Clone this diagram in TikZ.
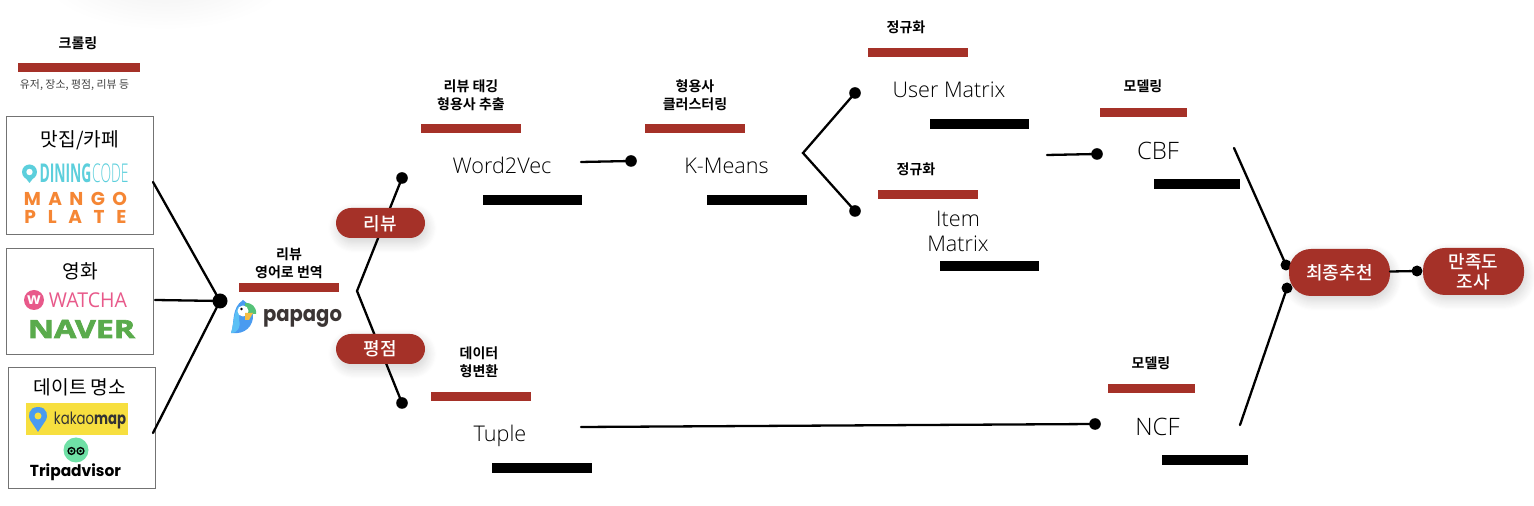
\documentclass[tikz,border=0pt]{standalone}
\usepackage{fontspec}
\usepackage{graphicx}
\setmainfont{Open Sans}
\newfontfamily\kr{Noto Sans CJK KR}
\newfontfamily\krb{Noto Sans CJK KR Bold}[BoldFont={Noto Sans CJK KR Bold}]
\newfontfamily\krm{Noto Sans CJK KR Medium}
\newfontfamily\pop{Poppins}
\newfontfamily\opl{Open Sans Light}
\newfontfamily\opfat{Open Sans}[FakeBold=2.5,BoldFeatures={FakeBold=2.5}]
\usetikzlibrary{fadings,shadows.blur}
\definecolor{brick}{HTML}{A53128}
\definecolor{dcode}{HTML}{5CCFDC}
\definecolor{mango}{HTML}{F58634}
\definecolor{watcha}{HTML}{E8598A}
\definecolor{navergr}{HTML}{5AAB4C}
\definecolor{kakaoy}{HTML}{F7DF3F}
\definecolor{tripg}{HTML}{6FE0A6}
\definecolor{papagoc}{HTML}{3B3534}
\definecolor{birdblue}{HTML}{4A9BF0}
\definecolor{birdsky}{HTML}{5BC0F5}
\definecolor{birdgreen}{HTML}{55C278}
\definecolor{birdbeak}{HTML}{F5BE45}
\tikzset{
  every node/.style={inner sep=0pt,outer sep=0pt,align=center},
  redbar/.style={fill=brick,minimum height=4.5pt,minimum width=50pt},
  blackbar/.style={fill=black,minimum height=5pt,minimum width=49.7pt},
  srcbox/.style={draw=black!55,line width=.45pt,fill=white},
  pill/.style={fill=brick,rounded corners=11pt,text=white,font=\krm\fontsize{9}{10}\selectfont,
    blur shadow={shadow xshift=1pt,shadow yshift=-2.5pt,shadow blur steps=10,shadow opacity=18,shadow blur radius=5pt}},
  step label/.style={font=\krb\fontsize{7}{9}\selectfont},
  src label/.style={font=\kr\fontsize{9.6}{11}\selectfont},
  model label/.style={font=\opl\fontsize{10.8}{12.5}\selectfont,text=black},
  link/.style={line width=1.15pt,line cap=round},
  dot/.style={circle,fill=black,minimum size=5.8pt},
  bigdot/.style={circle,fill=black,minimum size=7.5pt},
}
\newcommand{\fitbox}[3]{\resizebox*{#1pt}{#2pt}{#3}}
\begin{document}
\begin{tikzpicture}[x=.5pt,y=-.5pt]
\useasboundingbox (0,0) rectangle (1534,506);
% faint glow at the top edge
\shade[inner color=black!6,outer color=white] (165,-25) ellipse [x radius=125,y radius=55];
% source boxes
\node[srcbox,minimum width=73.5pt,minimum height=59pt] (food) at (79.5,175) {};
\node[srcbox,minimum width=73.5pt,minimum height=53pt] (movie) at (79.5,301) {};
\node[srcbox,minimum width=73.5pt,minimum height=60.5pt] (date) at (81.5,427.5) {};
\node[src label] (foodT) at (80,140) {맛집/카페};
\node[src label] (movieT) at (80,271) {영화};
\node[src label] (dateT) at (80,387.5) {데이트 명소};
% dining code
\fill[dcode] (29.5,172) circle (7.5);
\fill[white] (29.5,172) circle (3.2);
\fill[dcode] (24,176) -- (35,176) -- (29.5,183) -- cycle;
\node[text=dcode] (dining) at (84,173) {\fitbox{44.5}{9.5}{\textbf{DINING}\kern.5pt{\opl CODE}}};
% mango plate
\node[text=mango,font=\pop\bfseries\fontsize{9.3}{9.5}\selectfont] (mango) at (75.5,198.5) {\makebox[51.5pt][s]{M\hfill A\hfill N\hfill G\hfill O}};
\node[text=mango,font=\pop\bfseries\fontsize{9.3}{9.5}\selectfont] (plate) at (75.5,216.5) {\makebox[51pt][s]{P\hfill L\hfill A\hfill T\hfill E}};
% watcha
\node[circle,fill=watcha,minimum size=10pt,text=white,font=\bfseries\fontsize{8}{8}\selectfont] (wicon) at (34,300) {w};
\node[text=watcha] (watchaT) at (88,300) {\fitbox{39}{7.5}{WATCHA}};
\node[text=navergr] (naver) at (81.5,329) {\fitbox{53.5}{9}{\opfat\bfseries NAVER}};
% kakao
\node[fill=kakaoy,minimum width=51pt,minimum height=16pt] (kakao) at (77,419) {};
\fill[birdblue] (38,407) .. controls (28,407) and (28,417) .. (30,420) -- (38,432) -- (46,420) .. controls (48,417) and (48,407) .. (38,407) -- cycle;
\fill[kakaoy] (38,416) circle (3.5);
\node[text=black!80] (kakaoT) at (90,420) {\fitbox{36}{8.5}{\pop kakao\textbf{map}}};
% tripadvisor
\node[circle,fill=tripg,minimum size=12.5pt] (tripicon) at (76,450) {};
\draw[black,line width=.7pt] (71.5,451) circle (3.4) (80.5,451) circle (3.4);
\fill[black] (71.5,451) circle (1.3) (80.5,451) circle (1.3);
\node (trip) at (75.5,472) {\fitbox{45.5}{8.5}{\pop\textbf{Tripadvisor}}};
% crawl
\node[step label] (crawlT) at (78,43) {크롤링};
\node[redbar,minimum width=61pt] (crawlB) at (79,67.5) {};
\node[font=\kr\fontsize{5.45}{6}\selectfont,text=black!75] (crawlS) at (74.5,85) {유저, 장소, 평점, 리뷰 등};
% papago
\node[step label] (papT) at (289,263) {리뷰\\영어로 번역};
\node[redbar] (papB) at (289,287.5) {};
\fill[birdblue] (243,300) .. controls (231,308) and (235,322) .. (231,333) .. controls (245,335) and (254,326) .. (253,314) -- (248,304) -- cycle;
\fill[birdsky] (239,306) .. controls (233,313) and (234,324) .. (231,333) .. controls (238,333) and (241,327) .. (239,320) -- cycle;
\fill[birdgreen] (245,303) .. controls (251,302) and (257,307) .. (256,314) -- (245,314) -- cycle;
\fill[white] (243,311) circle (5.5);
\fill[black] (241.5,309) circle (1.4);
\fill[birdbeak] (245,313) -- (253,313) -- (249,320) -- (245,320) -- cycle;
\node[text=papagoc] (papago) at (302.5,318) {\fitbox{39.5}{9}{\pop\bfseries papago}};
% labels and bars
\node[step label] (tagT) at (471,95) {리뷰 태깅\\형용사 추출};
\node[redbar] (tagB) at (471,128.5) {};
\node[model label] (w2v) at (502,165.5) {Word2Vec};
\node[blackbar] (w2vB) at (532.5,200) {};
\node[step label] (adjT) at (695,95) {형용사\\클러스터링};
\node[redbar] (adjB) at (695,128.5) {};
\node[model label] (km) at (726.5,165.5) {K-Means};
\node[blackbar] (kmB) at (757,200) {};
\node[step label] (n1T) at (906,27.5) {정규화};
\node[redbar] (n1B) at (918,52.5) {};
\node[model label] (um) at (949,89.5) {User Matrix};
\node[blackbar] (umB) at (979.5,124) {};
\node[step label] (n2T) at (916,169.5) {정규화};
\node[redbar] (n2B) at (928,194.5) {};
\node[model label] (im) at (958,231.5) {Item\\Matrix};
\node[blackbar] (imB) at (989.5,266) {};
\node[step label] (m1T) at (1143,86.5) {모델링};
\node[redbar,minimum width=43.5pt] (m1B) at (1143.5,112.5) {};
\node[model label,font=\opl\fontsize{12}{13}\selectfont] (cbf) at (1158,151) {CBF};
\node[blackbar,minimum width=43pt] (cbfB) at (1197,184) {};
\node[step label] (m2T) at (1151,363.5) {모델링};
\node[redbar,minimum width=43.5pt] (m2B) at (1151.5,388.5) {};
\node[model label,font=\opl\fontsize{12}{13}\selectfont] (ncf) at (1157.5,427) {NCF};
\node[blackbar,minimum width=43pt] (ncfB) at (1205,460) {};
\node[step label] (dtT) at (479,362) {데이터\\형변환};
\node[redbar] (dtB) at (480.5,396.5) {};
\node[model label] (tup) at (500,435.5) {Tuple};
\node[blackbar] (tupB) at (542,468.5) {};
% joints and free ends
\coordinate (c1) at (153,182);
\coordinate (c2) at (155,300);
\coordinate (c3) at (153,433);
\coordinate (fork) at (357,291);
\coordinate (w2vE) at (581,162);
\coordinate (kmF) at (803,153);
\coordinate (umE) at (1047,155);
\coordinate (cbfE) at (1234,148);
\coordinate (ncfE) at (1240,425);
\coordinate (tupE) at (581,427);
\node[bigdot] (hub) at (220,301) {};
\node[dot] (dReview) at (402,178) {};
\node[dot] (dRate) at (402,403) {};
\node[dot] (dKm) at (631,161) {};
\node[dot] (dUm) at (855,93) {};
\node[dot] (dIm) at (855,211) {};
\node[dot] (dCbf) at (1097,154) {};
\node[dot] (dNcf) at (1095,424) {};
\node[dot,minimum size=5.5pt] (dF1) at (1286,265) {};
\node[dot,minimum size=5.5pt] (dF2) at (1287,288) {};
\node[dot,minimum size=5.5pt] (dS) at (1417,271) {};
% connectors
\draw[link] (c1) -- (hub.center);
\draw[link] (c2) -- (hub.center);
\draw[link] (c3) -- (hub.center);
\draw[link] (dReview.center) -- (fork) -- (dRate.center);
\draw[link] (w2vE) -- (dKm.center);
\draw[link] (dUm.center) -- (kmF) -- (dIm.center);
\draw[link] (umE) -- (dCbf.center);
\draw[link] (tupE) -- (dNcf.center);
\draw[link] (cbfE) -- (dF1.center);
\draw[link] (ncfE) -- (dF2.center);
% pills
\node[pill,minimum width=44.5pt,minimum height=15pt,rounded corners=7.5pt,text depth=0pt] (review) at (380.5,223) {\raisebox{-.5pt}{리뷰}};
\node[pill,minimum width=44.5pt,minimum height=15pt,rounded corners=7.5pt] (rating) at (380.5,349) {\raisebox{-.5pt}{평점}};
\node[pill,minimum width=50.5pt,minimum height=23.5pt] (final) at (1339.5,272.5) {\raisebox{-.5pt}{최종추천}};
\node[pill,minimum width=50.5pt,minimum height=23.5pt] (survey) at (1473.5,271.5) {만족도\\조사};
\draw[link] (final) -- (dS.center);
\end{tikzpicture}
\end{document}
